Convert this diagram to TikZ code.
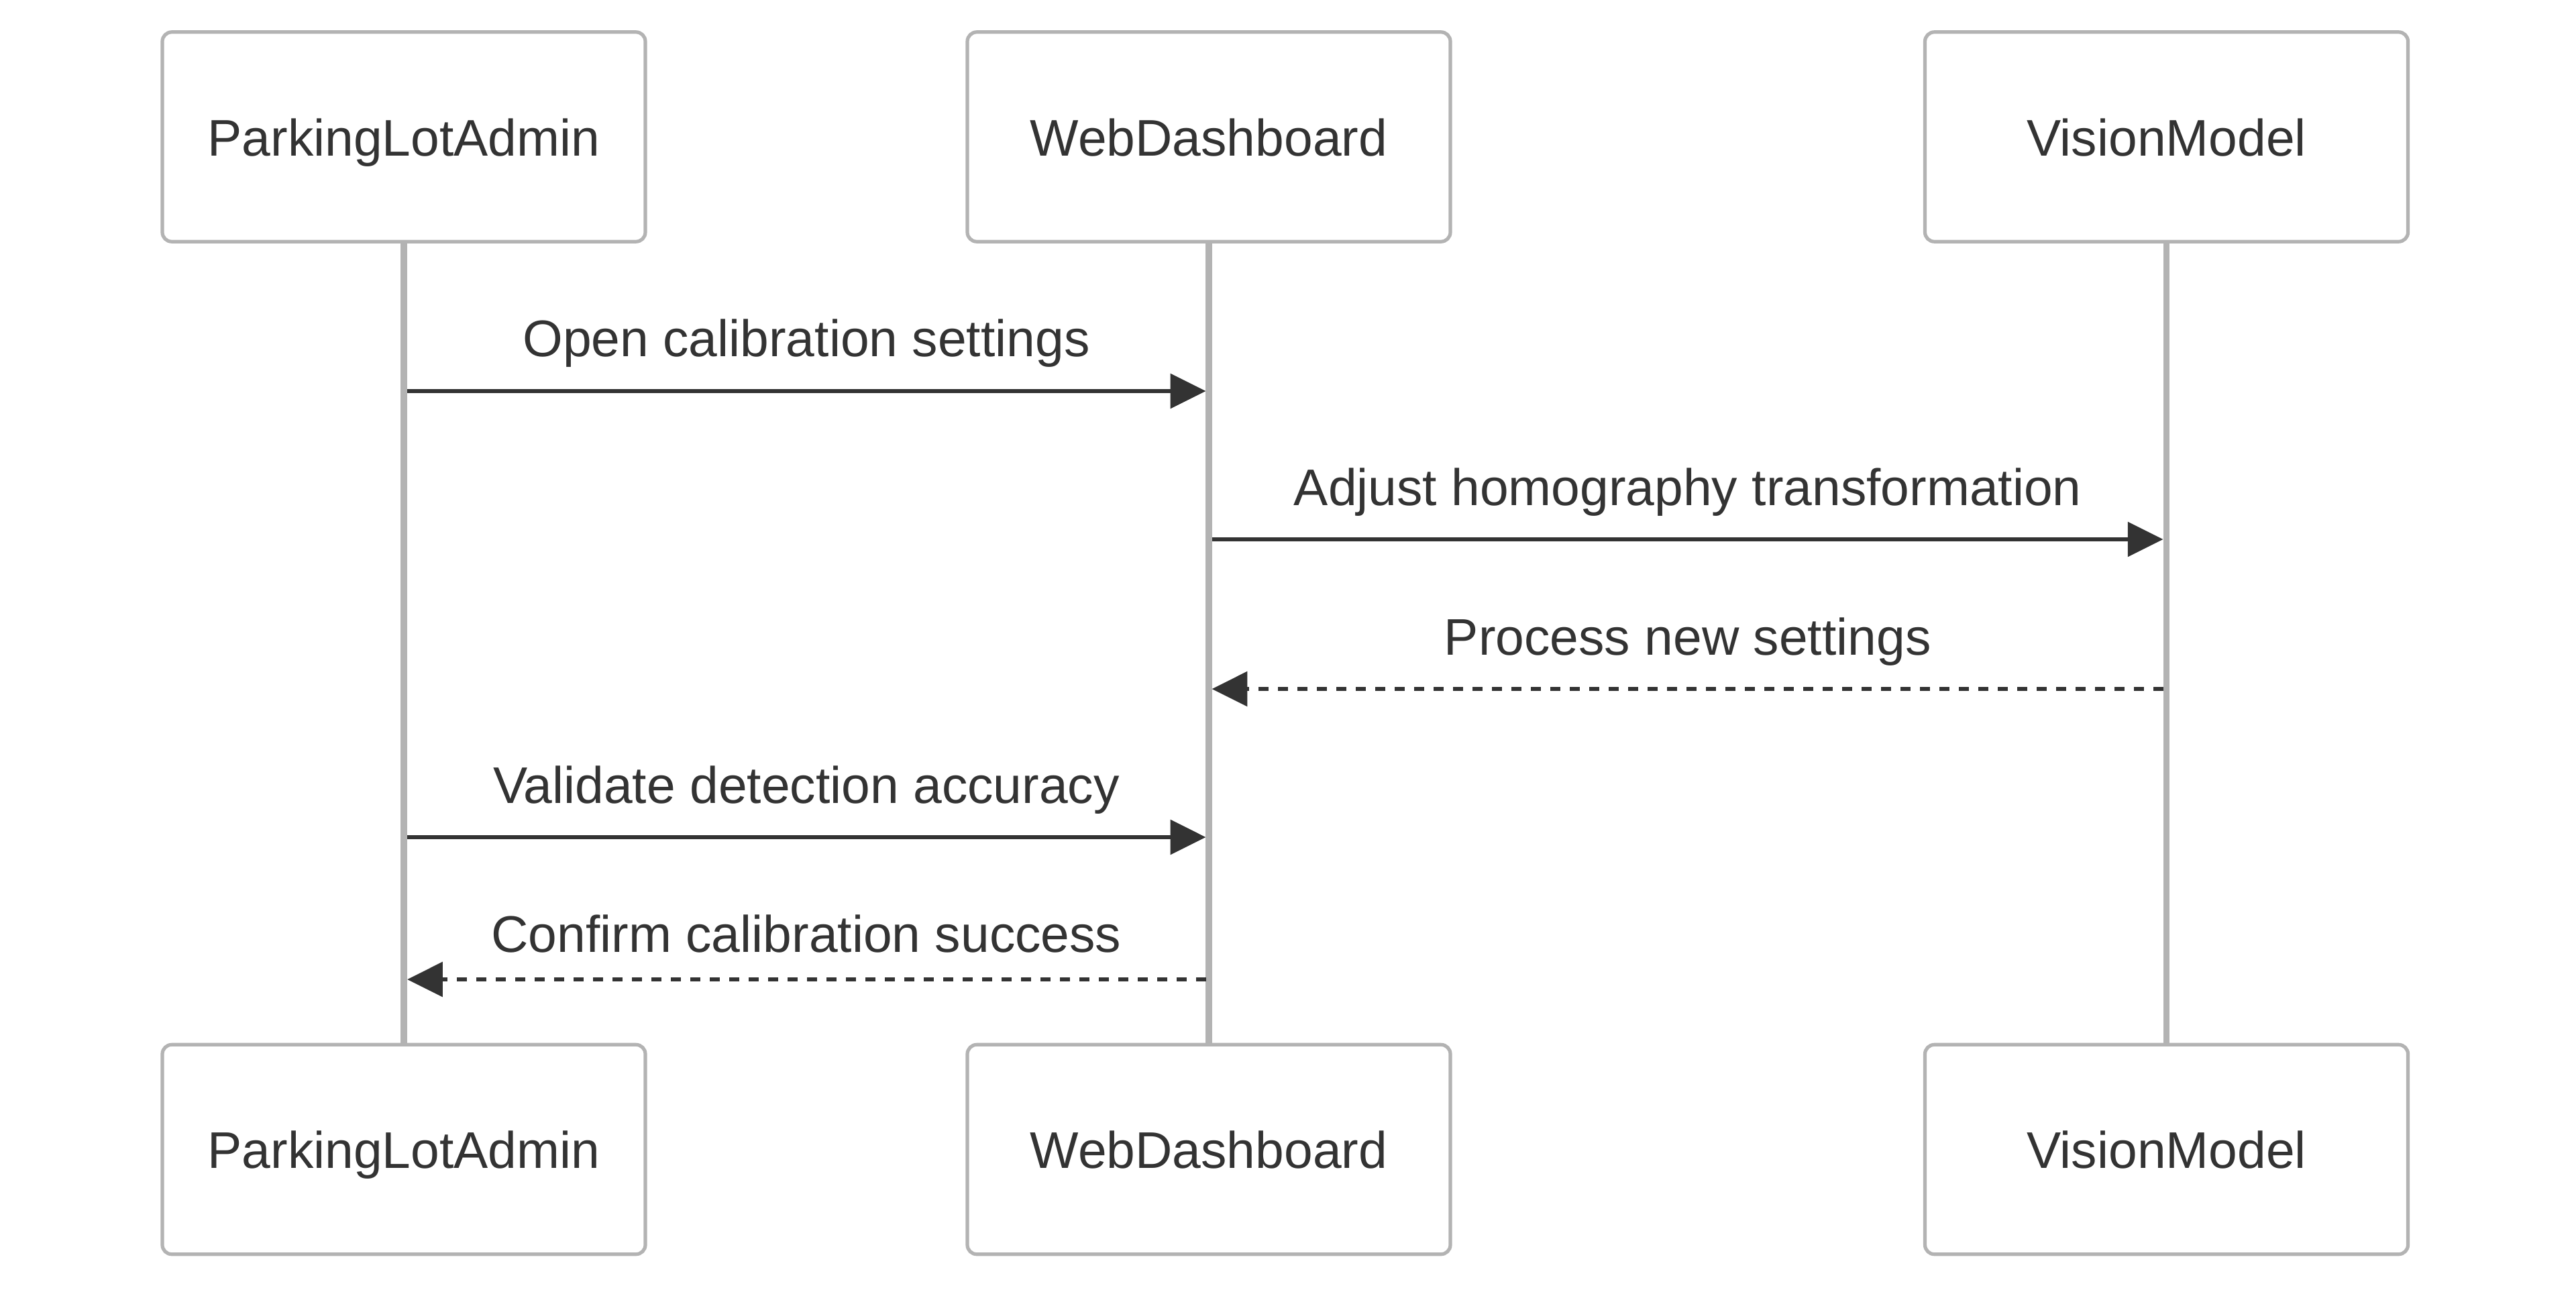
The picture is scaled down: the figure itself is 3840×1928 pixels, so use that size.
\documentclass[tikz,border=0pt]{standalone}
\usepackage{fontspec}
\setmainfont{Liberation Sans}
\usetikzlibrary{arrows.meta}
\definecolor{lgray}{HTML}{B3B3B3}
\definecolor{ink}{HTML}{333333}
\begin{document}
\begin{tikzpicture}[x=0.25pt,y=-0.25pt,
  actor/.style={draw=lgray, line width=1.3pt, fill=white, rounded corners=3.5pt,
    minimum width=180pt, minimum height=78.1pt, inner sep=0pt},
  lbl/.style={anchor=base, text=ink, font=\fontsize{19.2pt}{23pt}\selectfont, inner sep=0pt},
  lifeline/.style={draw=lgray, line width=2.4pt},
  msg/.style={draw=ink, line width=1.7pt, -{Triangle[length=13.2pt,width=12.7pt]}},
  reply/.style={msg, dash pattern=on 3.75pt off 3.5pt}]
\useasboundingbox (0,0) rectangle (3840,1928);
\fill[white] (0,0) rectangle (3840,1928);

% actor boxes
\node[actor] (pA)  at (602,204) {};
\node[actor] (pW)  at (1802,204) {};
\node[actor] (pV)  at (3229.5,204) {};
\node[actor] (pAb) at (602,1713.5) {};
\node[actor] (pWb) at (1802,1713.5) {};
\node[actor] (pVb) at (3229.5,1713.5) {};

% lifelines
\draw[lifeline] (pA.south) -- (pAb.north);
\draw[lifeline] (pW.south) -- (pWb.north);
\draw[lifeline] (pV.south) -- (pVb.north);

% actor labels
\node[lbl] (tA)  at (602,232) {ParkingLotAdmin};
\node[lbl] (tW)  at (1802,232) {WebDashboard};
\node[lbl] (tV)  at (3229.5,232) {VisionModel};
\node[lbl] (tAb) at (602,1741) {ParkingLotAdmin};
\node[lbl] (tWb) at (1802,1741) {WebDashboard};
\node[lbl] (tVb) at (3229.5,1741) {VisionModel};

% message end points
\coordinate (m1s) at (607,583);    \coordinate (m1e) at (1797.5,583);
\coordinate (m2s) at (1806.5,804); \coordinate (m2e) at (3224.5,804);
\coordinate (m3s) at (3224.5,1027);\coordinate (m3e) at (1806.5,1027);
\coordinate (m4s) at (607,1248);   \coordinate (m4e) at (1797.5,1248);
\coordinate (m5s) at (1797.5,1460);\coordinate (m5e) at (607,1460);

% messages
\draw[msg]   (m1s) -- (m1e);
\draw[msg]   (m2s) -- (m2e);
\draw[reply] (m3s) -- (m3e);
\draw[msg]   (m4s) -- (m4e);
\draw[reply] (m5s) -- (m5e);

% message labels
\node[lbl] (l1) at (1202,531)    {Open calibration settings};
\node[lbl] (l2) at (2515.75,753) {Adjust homography transformation};
\node[lbl] (l3) at (2515.75,976) {Process new settings};
\node[lbl] (l4) at (1202,1197)   {Validate detection accuracy};
\node[lbl] (l5) at (1202,1419)   {Confirm calibration success};
\end{tikzpicture}
\end{document}
